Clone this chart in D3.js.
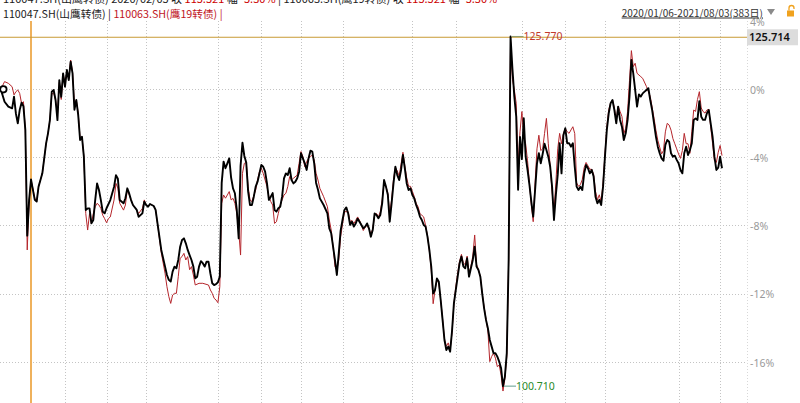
<!DOCTYPE html>
<html><head><meta charset="utf-8">
<script src="https://cdn.jsdelivr.net/npm/d3@7"></script>
<style>body{margin:0;background:#fff;}svg{display:block;}</style>
</head><body>
<svg id="c" width="800" height="403"></svg>
<script>
// ---- data ----
const basePrice = 121.986;           // price at day 0 (0%)
const lastDay = 382;                 // 383 trading days
const black = [[0,0],[2,-0.73],[4,-1.02],[6,-1.12],[7,-0.44],[8,-1.42],[9,-2.0],[10,-1.22],[11,-0.79],[12,-1.0],[13,-2.39],[14,-8.6],[15,-6.5],[16,-5.3],[18,-6.5],[19,-6.6],[20,-5.72],[21,-5.33],[22,-4.94],[24,-3.18],[25,-2.59],[26,-1.81],[27,-0.14],[28,-0.04],[29,-0.63],[30,-1.81],[31,0.54],[32,-0.44],[33,0.93],[34,0.15],[35,1.13],[36,0.54],[37,1.62],[38,0.93],[39,-1.2],[40,-0.63],[41,-1.51],[42,-2.98],[43,-2.79],[44,-3.96],[45,-7.09],[46,-7.0],[47,-7.0],[48,-7.88],[49,-7.68],[50,-6.51],[51,-5.53],[52,-5.92],[53,-6.51],[54,-7.2],[55,-7.29],[56,-6.99],[58,-6.51],[60,-5.72],[61,-5.05],[62,-5.25],[63,-6.51],[65,-6.7],[66,-6.4],[67,-5.82],[68,-6.12],[69,-6.51],[70,-6.8],[72,-7.09],[73,-7.49],[75,-7.29],[76,-6.6],[77,-6.8],[78,-6.9],[79,-6.74],[81,-6.86],[82,-7.09],[83,-7.88],[85,-9.44],[87,-10.42],[88,-10.91],[89,-11.2],[90,-11.3],[91,-10.71],[92,-10.42],[93,-10.52],[94,-10.03],[95,-9.25],[96,-8.85],[97,-8.76],[98,-9.05],[99,-9.44],[100,-9.74],[101,-10.03],[102,-10.42],[103,-11.11],[104,-11.01],[105,-10.42],[106,-10.1],[107,-10.22],[108,-10.42],[109,-10.13],[110,-10.13],[111,-10.81],[112,-11.4],[113,-11.5],[114,-11.45],[115,-11.34],[116,-11.0],[117,-5.5],[118,-4.25],[119,-4.64],[120,-4.35],[121,-4.06],[122,-5.2],[123,-5.82],[124,-6.11],[125,-7.09],[126,-8.76],[127,-4.5],[128,-3.14],[129,-3.92],[130,-4.3],[131,-6.0],[132,-6.8],[133,-6.8],[134,-6.31],[135,-5.72],[136,-5.43],[137,-4.94],[138,-4.45],[139,-4.55],[140,-4.84],[141,-5.53],[142,-6.5],[143,-6.31],[144,-6.1],[145,-7.09],[146,-7.19],[147,-6.99],[148,-6.9],[149,-6.31],[150,-5.23],[151,-4.94],[152,-5.04],[153,-4.64],[154,-5.33],[155,-5.53],[156,-5.43],[157,-5.23],[158,-4.84],[159,-3.76],[160,-4.06],[161,-4.35],[162,-4.74],[163,-4.06],[164,-3.61],[165,-3.66],[166,-4.35],[167,-5.5],[168,-5.9],[169,-6.41],[171,-6.8],[173,-7.29],[174,-8.17],[175,-8.46],[176,-9.25],[177,-10.03],[178,-10.91],[179,-9.64],[180,-8.3],[181,-7.68],[182,-7.09],[183,-6.94],[184,-7.3],[185,-7.97],[186,-7.78],[187,-8.07],[188,-7.88],[189,-7.6],[190,-7.78],[191,-7.97],[192,-8.17],[193,-8.07],[194,-7.88],[195,-8.17],[196,-8.66],[197,-8.27],[198,-7.29],[199,-7.39],[200,-7.58],[201,-7.39],[202,-6.7],[203,-5.33],[204,-5.72],[205,-6.2],[206,-7.78],[207,-6.7],[208,-5.53],[209,-4.55],[210,-5.04],[211,-5.33],[212,-4.74],[213,-3.86],[214,-4.64],[215,-5.53],[216,-5.92],[217,-5.82],[218,-6.21],[219,-6.41],[220,-6.8],[221,-7.09],[222,-7.48],[223,-7.68],[224,-7.97],[225,-8.07],[226,-8.66],[227,-9.44],[228,-10.42],[229,-12.0],[230,-11.79],[231,-11.11],[232,-11.3],[233,-12.38],[234,-13.55],[235,-14.73],[236,-15.32],[237,-15.12],[238,-15.42],[239,-14.2],[240,-12.58],[241,-11.79],[242,-11.01],[243,-10.23],[244,-9.83],[245,-10.4],[246,-10.52],[247,-9.93],[248,-11.01],[249,-10.52],[250,-10.03],[251,-9.25],[252,-10.42],[253,-10.62],[254,-11.01],[255,-12.0],[256,-12.87],[257,-13.55],[258,-14.04],[259,-14.73],[260,-15.12],[261,-15.51],[262,-15.51],[263,-15.71],[264,-16.0],[265,-16.39],[266,-17.44],[267,-16.88],[268,-15.5],[269,-10.0],[270,3.1],[271,1.2],[272,-0.43],[273,-1.6],[274,-5.9],[275,-2.8],[276,-4.1],[277,-1.7],[278,-3.96],[279,-4.74],[280,-5.6],[281,-6.6],[282,-7.48],[283,-5.92],[284,-4.35],[285,-3.76],[286,-4.35],[287,-3.8],[288,-3.2],[289,-3.57],[290,-3.96],[291,-4.55],[292,-5.72],[293,-7.68],[294,-6.2],[295,-5.0],[296,-3.17],[297,-4.94],[298,-2.7],[299,-2.29],[300,-3.17],[301,-3.17],[302,-3.37],[303,-3.17],[304,-4.55],[305,-5.72],[306,-5.92],[307,-5.72],[308,-5.92],[309,-4.94],[310,-4.45],[311,-4.64],[312,-4.94],[313,-4.74],[314,-5.13],[315,-6.31],[316,-6.7],[317,-6.5],[318,-6.8],[319,-5.72],[320,-3.96],[321,-2.39],[322,-1.41],[323,-0.82],[324,-0.63],[325,-1.22],[326,-2.0],[327,-1.02],[328,-1.8],[329,-2.2],[330,-2.98],[331,-2.59],[332,-1.8],[333,-0.43],[334,1.72],[335,0.94],[336,-0.04],[337,-1.02],[338,-0.3],[339,-0.43],[340,-0.24],[341,-0.14],[342,-0.04],[343,0.06],[344,-0.63],[345,-1.22],[346,-2.0],[347,-2.78],[348,-3.37],[349,-3.76],[350,-4.06],[351,-4.2],[352,-3.27],[353,-2.98],[354,-3.08],[355,-3.76],[356,-3.96],[357,-3.9],[358,-4.15],[359,-4.35],[360,-4.74],[361,-4.94],[362,-3.76],[363,-3.37],[364,-3.86],[365,-3.57],[366,-3.17],[367,-1.8],[368,-1.71],[369,-1.8],[370,-0.7],[371,-1.61],[372,-1.8],[373,-1.8],[374,-1.41],[375,-1.22],[376,-2.0],[377,-2.78],[378,-3.96],[379,-4.74],[380,-4.6],[381,-3.96],[382,-4.64]];
const red = [[0,0],[2,0.45],[4,0.35],[6,0.15],[7,-0.33],[8,-0.14],[9,-0.04],[10,-0.24],[11,-0.83],[12,-0.73],[13,-2.4],[14,-9.44],[15,-6.6],[16,-5.3],[18,-6.4],[19,-6.6],[20,-5.72],[21,-5.33],[22,-4.94],[24,-3.18],[25,-2.59],[26,-1.81],[27,-0.3],[28,-0.2],[29,-0.63],[30,-1.5],[31,0.4],[32,-0.6],[33,0.9],[34,0.35],[35,1.0],[36,0.6],[37,1.72],[38,1.0],[39,-0.9],[40,-0.63],[41,-1.4],[42,-2.9],[43,-2.79],[44,-3.96],[45,-7.3],[46,-8.27],[47,-7.3],[48,-7.9],[49,-7.3],[50,-6.9],[51,-6.7],[52,-6.8],[53,-7.0],[54,-7.4],[55,-7.6],[56,-7.84],[57,-7.6],[58,-7.5],[60,-6.5],[61,-5.53],[62,-5.8],[63,-6.7],[65,-7.1],[66,-6.8],[67,-5.9],[68,-6.2],[69,-6.5],[70,-6.8],[72,-7.09],[73,-7.3],[75,-7.0],[76,-6.5],[77,-6.8],[78,-6.9],[79,-6.74],[81,-6.86],[82,-7.09],[83,-7.88],[85,-9.6],[87,-10.81],[88,-11.6],[89,-12.18],[90,-12.58],[91,-12.09],[92,-11.99],[93,-11.99],[94,-11.01],[95,-9.93],[96,-9.83],[97,-9.64],[98,-10.03],[99,-9.83],[100,-10.6],[101,-10.42],[102,-10.91],[103,-11.5],[105,-11.4],[107,-11.4],[110,-11.5],[111,-11.79],[112,-11.99],[113,-12.28],[114,-12.38],[115,-12.54],[116,-11.6],[117,-6.7],[118,-6.21],[119,-6.4],[120,-6.21],[121,-6.01],[122,-6.5],[123,-6.41],[124,-6.7],[125,-7.29],[126,-8.27],[127,-9.74],[128,-4.94],[129,-4.35],[130,-4.3],[131,-5.72],[132,-6.5],[133,-6.6],[135,-5.92],[136,-5.33],[137,-4.84],[138,-4.64],[139,-4.94],[140,-5.33],[141,-5.72],[142,-6.31],[143,-6.6],[144,-6.8],[145,-7.88],[146,-7.78],[147,-7.29],[148,-6.8],[149,-6.5],[150,-6.21],[151,-6.11],[152,-5.72],[153,-5.13],[154,-5.33],[155,-5.23],[157,-5.04],[158,-4.35],[159,-3.66],[160,-3.96],[161,-4.55],[162,-4.25],[163,-4.06],[164,-3.96],[165,-3.86],[166,-4.15],[167,-4.94],[168,-5.33],[169,-5.82],[171,-6.31],[173,-6.9],[174,-7.68],[175,-8.27],[176,-9.25],[177,-10.42],[178,-10.62],[179,-10.03],[180,-8.66],[182,-7.19],[184,-7.2],[185,-7.8],[186,-7.7],[187,-7.9],[188,-7.7],[189,-7.5],[190,-7.7],[191,-7.97],[192,-8.3],[193,-8.1],[194,-8.0],[195,-8.2],[196,-8.5],[197,-8.2],[198,-7.4],[199,-7.3],[200,-7.5],[201,-7.2],[202,-6.5],[203,-5.5],[204,-5.7],[205,-6.1],[206,-7.3],[207,-6.5],[208,-5.3],[209,-4.6],[210,-4.8],[211,-5.1],[212,-4.4],[213,-3.7],[214,-4.5],[215,-5.2],[216,-5.7],[217,-5.7],[218,-6.0],[219,-6.3],[220,-6.7],[221,-6.9],[222,-7.3],[223,-7.4],[224,-7.5],[225,-8.0],[226,-8.6],[227,-9.5],[228,-10.6],[229,-12.6],[230,-11.8],[231,-11.2],[232,-11.4],[233,-12.4],[234,-13.5],[235,-14.7],[236,-15.1],[237,-14.9],[238,-15.3],[239,-14.3],[240,-12.6],[241,-11.6],[242,-10.8],[243,-10.1],[244,-9.7],[245,-10.2],[246,-10.3],[247,-9.8],[248,-10.8],[249,-10.4],[250,-9.8],[251,-8.56],[252,-10.3],[253,-10.6],[254,-11.0],[255,-12.0],[256,-12.8],[257,-13.5],[258,-14.2],[259,-16.0],[260,-15.7],[261,-15.5],[262,-15.8],[263,-16.3],[264,-16.2],[265,-16.8],[266,-17.73],[267,-17.0],[268,-15.7],[269,-10.0],[270,2.8],[271,0.6],[272,-0.04],[273,-0.82],[274,-4.5],[275,-2.5],[276,-1.31],[277,-2.78],[278,-3.2],[279,-4.2],[280,-5.5],[281,-6.8],[282,-7.78],[283,-5.5],[284,-3.5],[285,-2.7],[286,-3.6],[287,-3.5],[288,-2.6],[289,-1.71],[290,-3.2],[291,-4.5],[292,-6.0],[293,-7.2],[294,-5.5],[295,-3.5],[296,-2.59],[297,-3.2],[298,-2.6],[299,-2.3],[300,-2.49],[301,-2.59],[302,-2.39],[303,-2.2],[304,-2.6],[305,-5.5],[306,-5.7],[307,-5.6],[308,-5.3],[309,-4.6],[310,-4.3],[311,-4.5],[312,-4.7],[313,-4.7],[314,-5.0],[315,-6.0],[316,-6.5],[317,-6.2],[318,-6.6],[319,-5.5],[320,-3.8],[321,-2.2],[322,-1.2],[323,-0.8],[324,-0.63],[325,-1.1],[326,-1.8],[327,-1.0],[328,-1.3],[329,-1.6],[330,-2.6],[331,-2.3],[332,-1.3],[333,0.5],[334,2.27],[335,1.33],[336,1.53],[337,0.94],[339,0.74],[340,0.64],[342,0.16],[344,-0.43],[346,-1.7],[347,-2.4],[348,-3.0],[349,-3.4],[350,-3.8],[351,-3.6],[352,-2.5],[353,-2.0],[354,-2.1],[355,-2.4],[356,-2.9],[357,-3.2],[358,-3.5],[359,-3.8],[360,-4.06],[361,-3.6],[362,-2.59],[363,-3.2],[364,-3.2],[365,-3.76],[366,-2.5],[367,-1.22],[368,-1.3],[369,-0.6],[370,-0.14],[371,-1.1],[372,-1.31],[373,-1.4],[374,-1.22],[375,-1.18],[376,-2.2],[377,-3.17],[378,-4.2],[379,-4.3],[380,-3.7],[381,-3.3],[382,-3.9]];
const yTicks = [4, 0, -4, -8, -12, -16];
const gridDays = [34, 56, 77, 115, 138, 159, 181, 218, 241, 276, 299, 320, 359, 381];
const cursorDay = 16;
const cursorPrice = 125.714;
const maxPrice = 125.770;
const minPrice = 100.710;
const seriesNames = ["110047.SH(山鹰转债)", "110063.SH(鹰19转债)"];
const cursorDate = "2020/02/05";
const rangeText = "2020/01/06-2021/08/03(383日)";

// ---- layout ----
const W = 800, H = 403;
const plotTop = 21, plotRight = 747;
const svg = d3.select("#c");
const x = d3.scaleLinear().domain([0, lastDay]).range([0.8, 722]);
const y = d3.scaleLinear().domain([4, -16]).range([21.2, 361.6]);
const pctOf = p => (p / basePrice - 1) * 100;
const fontCJK = "'Noto Sans CJK SC','Noto Sans',sans-serif";

// grid
const grid = svg.append("g").attr("stroke", "#c4c4c4").attr("stroke-width", 1).attr("stroke-dasharray", "1,2");
grid.selectAll("line.h").data(yTicks.filter(t => t < 4)).join("line")
  .attr("x1", 0).attr("x2", plotRight).attr("y1", d => Math.round(y(d)) + 0.5).attr("y2", d => Math.round(y(d)) + 0.5);
grid.selectAll("line.v").data(gridDays).join("line")
  .attr("x1", d => Math.round(x(d)) + 0.5).attr("x2", d => Math.round(x(d)) + 0.5).attr("y1", plotTop).attr("y2", H);
svg.append("line").attr("x1", plotRight + 0.5).attr("x2", plotRight + 0.5).attr("y1", plotTop).attr("y2", H)
  .attr("stroke", "#d8d8d8").attr("stroke-dasharray", "1,2");

// y axis (right)
const yAxis = d3.axisRight(y).tickValues(yTicks).tickFormat(d => d + "%").tickSize(0).tickPadding(0);
const ya = svg.append("g").attr("transform", `translate(${plotRight + 3},0)`).call(yAxis);
ya.select(".domain").remove();
ya.selectAll("text").attr("fill", "#9a9a9a").attr("font-size", 10.5).attr("dy", "0.42em")
  .attr("font-family", "'Noto Sans',sans-serif");

// cursor lines
svg.append("line").attr("x1", x(cursorDay)).attr("x2", x(cursorDay)).attr("y1", plotTop).attr("y2", H)
  .attr("stroke", "#efb15c").attr("stroke-width", 2);
const cy = y(pctOf(cursorPrice));
svg.append("line").attr("x1", 0).attr("x2", plotRight).attr("y1", cy).attr("y2", cy)
  .attr("stroke", "#c89a35").attr("stroke-width", 1);

// series
const line = d3.line().x(d => x(d[0])).y(d => y(d[1]));
svg.append("path").datum(red).attr("d", line).attr("fill", "none").attr("stroke", "#b5262c").attr("stroke-width", 1).attr("stroke-linejoin", "round");
svg.append("path").datum(black).attr("d", line).attr("fill", "none").attr("stroke", "#000").attr("stroke-width", 1.9).attr("stroke-linejoin", "round");

// start marker
svg.append("circle").attr("cx", x(black[0][0]) + 2.6).attr("cy", y(black[0][1])).attr("r", 3.2)
  .attr("fill", "#fff").attr("stroke", "#000").attr("stroke-width", 1.8);

// max / min annotations
const maxPt = black.reduce((a, b) => b[1] > a[1] ? b : a);
const minPt = black.reduce((a, b) => b[1] < a[1] ? b : a);
const mx = x(maxPt[0]) + 1, my = y(pctOf(maxPrice));
svg.append("line").attr("x1", mx).attr("x2", mx + 12).attr("y1", my).attr("y2", my).attr("stroke", "#8f9c6c").attr("stroke-width", 1);
svg.append("text").attr("x", mx + 12).attr("y", my).attr("dy", "0.35em").attr("fill", "#c0392b")
  .attr("font-size", 10.5).attr("font-family", "'Noto Sans',sans-serif").text(maxPrice.toFixed(3));
const nx = x(minPt[0]) + 1, ny = y(pctOf(minPrice));
svg.append("line").attr("x1", nx).attr("x2", nx + 12).attr("y1", ny).attr("y2", ny).attr("stroke", "#5f9c8c").attr("stroke-width", 1);
svg.append("text").attr("x", nx + 12).attr("y", ny).attr("dy", "0.35em").attr("fill", "#2a8a2a")
  .attr("font-size", 10.5).attr("font-family", "'Noto Sans',sans-serif").text(minPrice.toFixed(3));

// cursor price box
svg.append("rect").attr("x", plotRight).attr("y", cy - 8).attr("width", 51).attr("height", 16).attr("fill", "#dcdcdc");
svg.append("text").attr("x", plotRight + 2).attr("y", cy).attr("dy", "0.36em").attr("fill", "#111")
  .attr("font-size", 11).attr("font-weight", 600).attr("font-family", "'Noto Sans',sans-serif").text(cursorPrice.toFixed(3));

// header (top row, cut off by the window)
const bAt = black.find(d => d[0] === cursorDay)[1], rAt = red.find(d => d[0] === cursorDay)[1];
const topRow = svg.append("text").attr("x", 3).attr("y", 3).attr("font-size", 11).attr("font-family", fontCJK);
topRow.append("tspan").attr("fill", "#222").text(seriesNames[0] + "  " + cursorDate + "  收 ");
topRow.append("tspan").attr("fill", "#c00").text((basePrice * (1 + bAt / 100)).toFixed(3));
topRow.append("tspan").attr("fill", "#222").text("  幅 ");
topRow.append("tspan").attr("fill", "#c00").text(bAt.toFixed(2) + "%");
topRow.append("tspan").attr("fill", "#222").text("  |  " + seriesNames[1] + "  收 ");
topRow.append("tspan").attr("fill", "#c00").text((basePrice * (1 + rAt / 100)).toFixed(3));
topRow.append("tspan").attr("fill", "#222").text("  幅 ");
topRow.append("tspan").attr("fill", "#c00").text(rAt.toFixed(2) + "%");

// header second row: legend
const leg = svg.append("text").attr("x", 3).attr("y", 18).attr("font-size", 10.7).attr("font-family", fontCJK);
leg.append("tspan").attr("fill", "#222").text(seriesNames[0] + " | ");
leg.append("tspan").attr("fill", "#c0141c").text(seriesNames[1] + " |");

svg.append("text").attr("x", 763).attr("y", 16.5).attr("text-anchor", "end").attr("font-size", 10)
  .attr("font-family", fontCJK).attr("fill", "#333").attr("text-decoration", "underline").text(rangeText);
// dropdown triangle
svg.append("path").attr("d", "M767,9 L775,9 L771,15 Z").attr("fill", "#8a8a8a");
// lock icon
svg.append("rect").attr("x", 787).attr("y", 10.5).attr("width", 7).attr("height", 6).attr("fill", "#f0a21e");
svg.append("path").attr("d", "M789,10.5 V8 A2.5,2.5 0 0 1 794,8 V9").attr("fill", "none").attr("stroke", "#f0a21e").attr("stroke-width", 1.3);
</script>
</body></html>
